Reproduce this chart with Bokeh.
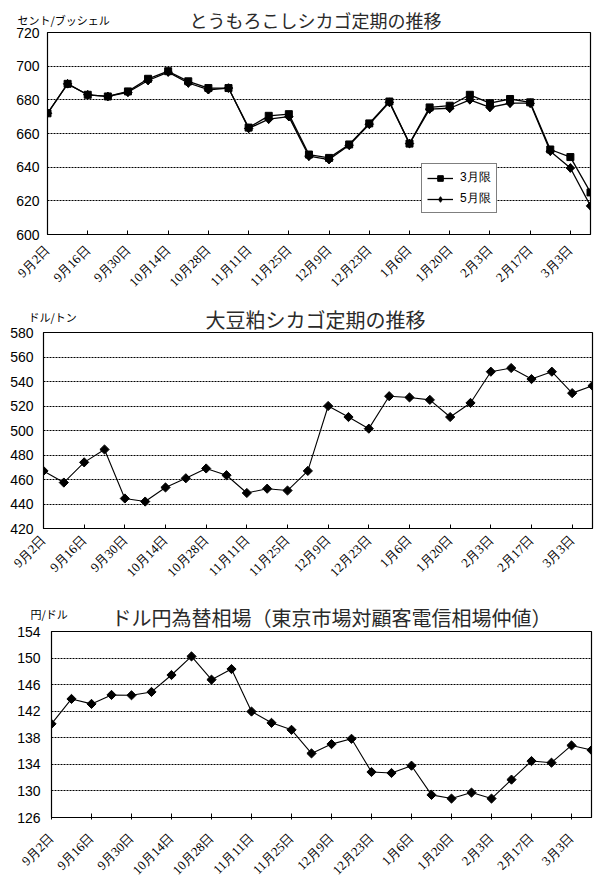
import math
from bokeh.plotting import figure
from bokeh.models import Range1d, FixedTicker, Label, Legend, LegendItem
from bokeh.layouts import column, row
from bokeh.embed import file_html
from bokeh.resources import INLINE

# ---- data ----
dates = ["9月2日", "9月9日", "9月16日", "9月23日", "9月30日", "10月7日", "10月14日",
         "10月21日", "10月28日", "11月4日", "11月11日", "11月18日", "11月25日", "12月2日",
         "12月9日", "12月16日", "12月23日", "12月30日", "1月6日", "1月13日", "1月20日",
         "1月27日", "2月3日", "2月10日", "2月17日", "2月24日", "3月3日", "3月10日"]

corn_mar = [672, 689.5, 683, 682, 685, 692.5, 697, 691, 687, 687, 663.5, 670.5, 671.5, 647.5,
            645.5, 653.5, 666, 679, 654, 675.5, 676.5, 683, 678, 680.5, 678.5, 650.5, 646, 625]
corn_may = [672, 689.5, 683, 682, 684.5, 691.5, 696.5, 690, 686, 687, 663, 668.5, 670, 646.5,
            644.5, 653, 665.5, 678.5, 654, 674.5, 675, 680, 675.5, 678, 678, 649.5, 639.5, 617]

meal = [467, 457.5, 474, 484.5, 444.5, 442, 453.5, 461, 469, 463.5, 449, 452.5, 451, 467,
        520, 511, 501.5, 528, 527, 525, 511, 522.5, 548, 551, 542, 548, 530.5, 536.5]

yen = [140.1, 143.85, 143.1, 144.45, 144.4, 144.9, 147.45, 150.25, 146.75, 148.35, 141.95,
       140.25, 139.2, 135.65, 137.05, 137.85, 132.85, 132.7, 133.8, 129.4, 128.85, 129.75,
       128.85, 131.7, 134.5, 134.25, 136.85, 136.15]

titles = ["とうもろこしシカゴ定期の推移", "大豆粕シカゴ定期の推移",
          "ドル円為替相場（東京市場対顧客電信相場仲値）"]
units = ["セント/ブッシェル", "ドル/トン", "円/ドル"]
series_names = ["3月限", "5月限"]

x = list(range(len(dates)))
tick_idx = list(range(0, len(dates), 2))

TITLE_FONT = "Noto Sans CJK JP"
XLAB_FONT = "Liberation Serif"
YLAB_FONT = "Liberation Sans"
W = 611
OVERLAP = 8


def header(height, title, unit, tx, ty, tsize, ux, uy):
    h = figure(width=W, height=height, output_backend="svg", toolbar_location=None,
               x_range=Range1d(0, W), y_range=Range1d(0, height),
               x_axis_location=None, y_axis_location=None,
               min_border_left=0, min_border_right=0, min_border_top=0, min_border_bottom=0)
    h.grid.visible = False
    h.outline_line_color = None
    h.background_fill_color = "white"
    h.border_fill_color = "white"
    h.add_layout(Label(x=tx, y=ty, text=title, text_font=TITLE_FONT, text_font_size=tsize,
                       text_color="#2a2a2a", text_align="center", text_baseline="middle"))
    h.add_layout(Label(x=ux, y=uy, text=unit, text_font=TITLE_FONT, text_font_size="11px",
                       text_color="black", text_align="left", text_baseline="middle"))
    return h


def make_fig(height, left, right, bottom, ymin, ymax, ystep, ystand, xstand, tick_out=0):
    p = figure(width=W, height=height, output_backend="svg", toolbar_location=None,
               x_range=Range1d(0, len(dates) - 1), y_range=Range1d(ymin, ymax),
               min_border_left=left, min_border_right=right,
               min_border_top=OVERLAP, min_border_bottom=bottom,
               margin=(-OVERLAP, 0, 0, 0))
    p.background_fill_color = "white"
    p.border_fill_alpha = 0
    p.outline_line_color = "black"
    p.outline_line_width = 1.2
    p.xgrid.visible = False
    p.ygrid.grid_line_color = "black"
    p.ygrid.grid_line_dash = "2 1"
    p.ygrid.grid_line_width = 1
    p.yaxis.ticker = FixedTicker(ticks=list(range(ymin, ymax + 1, ystep)))
    p.yaxis.major_tick_in = 0
    p.yaxis.major_tick_out = 0
    p.yaxis.minor_tick_line_color = None
    p.yaxis.axis_line_color = "black"
    p.yaxis.major_label_text_font = YLAB_FONT
    p.yaxis.major_label_text_font_size = "14px"
    p.yaxis.major_label_text_color = "black"
    p.yaxis.major_label_standoff = ystand
    p.xaxis.ticker = FixedTicker(ticks=tick_idx)
    p.xaxis.major_label_overrides = {i: dates[i] for i in tick_idx}
    p.xaxis.major_label_orientation = math.pi / 4
    p.xaxis.major_tick_in = 4
    p.xaxis.major_tick_out = tick_out
    p.xaxis.major_tick_line_color = "black"
    p.xaxis.minor_tick_line_color = None
    p.xaxis.axis_line_color = "black"
    p.xaxis.major_label_text_font = XLAB_FONT
    p.xaxis.major_label_text_font_size = "13px"
    p.xaxis.major_label_text_color = "black"
    p.xaxis.major_label_standoff = xstand
    return p


# ---- chart 1 ----
h1 = header(32, titles[0], units[0], 315, 13, "18px", 17, 13)
p1 = make_fig(273, 47, 21, 63, 600, 720, 20, 8, 13)
l1 = p1.line(x, corn_mar, line_color="black", line_width=1.3)
s1 = p1.scatter(x, corn_mar, marker="square", size=7, fill_color="black", line_color="black")
l2 = p1.line(x, corn_may, line_color="black", line_width=1.3)
d2 = p1.scatter(x, corn_may, marker="diamond", size=8.5, fill_color="black", line_color="black")
s2 = p1.scatter(x, corn_may, marker="square", angle=math.pi / 4, size=6,
                fill_color="black", line_color="black")
leg = Legend(items=[LegendItem(label=series_names[0], renderers=[l1, s1]),
                    LegendItem(label=series_names[1], renderers=[l2, d2])],
             location=(374, 21), orientation="vertical")
leg.label_text_font = YLAB_FONT
leg.label_text_font_size = "12px"
leg.label_text_color = "black"
leg.border_line_color = "black"
leg.border_line_width = 1
leg.background_fill_color = "white"
leg.background_fill_alpha = 1
leg.padding = 5
leg.spacing = 4
leg.margin = 0
leg.glyph_width = 26
leg.glyph_height = 14
leg.label_height = 14
leg.label_standoff = 7
p1.add_layout(leg)

# ---- chart 2 ----
h2 = header(35, titles[1], units[1], 315, 13.5, "20px", 28, 15.5)
p2 = make_fig(273, 43, 19, 69, 420, 580, 20, 10, 9)
p2.line(x, meal, line_color="black", line_width=1.1)
p2.scatter(x, meal, marker="square", angle=math.pi / 4, size=6.5,
           fill_color="black", line_color="black")

# ---- chart 3 ----
h3 = header(34, titles[2], units[2], 331, 14, "20px", 30, 17.5)
p3 = make_fig(262, 51, 20, 67, 126, 154, 4, 11, 16, tick_out=2)
p3.line(x, yen, line_color="black", line_width=1.1)
p3.scatter(x, yen, marker="square", angle=math.pi / 4, size=6.5,
           fill_color="black", line_color="black")

layout = column(row(h1), row(p1), row(h2), row(p2), row(h3), row(p3), spacing=0)
open("out.html", "w").write(file_html(layout, INLINE))
